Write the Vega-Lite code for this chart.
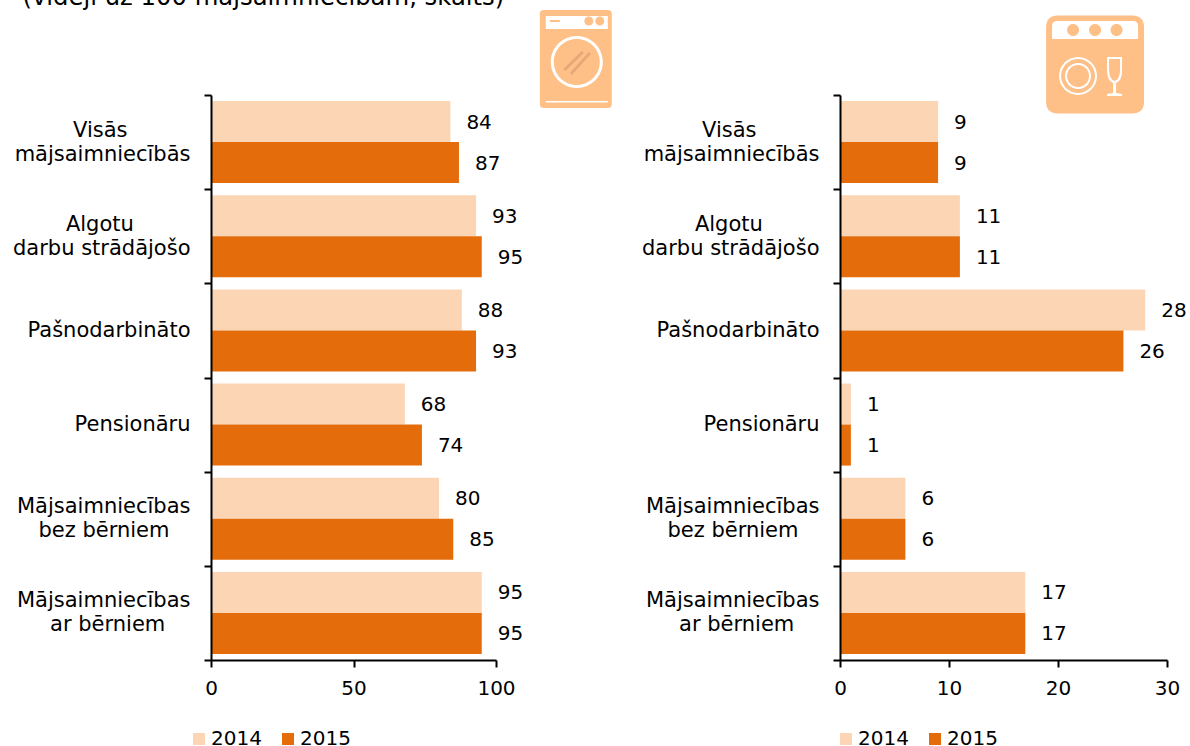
{
"$schema":"https://vega.github.io/schema/vega-lite/v6.json",
"background":"white",
"padding":{"left":12,"top":-15,"right":0,"bottom":0},
"title":{"text":"(vidēji uz 100 mājsaimniecībām, skaits)","anchor":"start","font":"DejaVu Sans","fontSize":24.3,"fontWeight":"normal","color":"#000000","offset":0,"dx":10},
"datasets":{
"left":[
{"grupa":"Visās mājsaimniecībās","gads":"2014","v":84},{"grupa":"Visās mājsaimniecībās","gads":"2015","v":87},
{"grupa":"Algotu darbu strādājošo","gads":"2014","v":93},{"grupa":"Algotu darbu strādājošo","gads":"2015","v":95},
{"grupa":"Pašnodarbināto","gads":"2014","v":88},{"grupa":"Pašnodarbināto","gads":"2015","v":93},
{"grupa":"Pensionāru","gads":"2014","v":68},{"grupa":"Pensionāru","gads":"2015","v":74},
{"grupa":"Mājsaimniecības bez bērniem","gads":"2014","v":80},{"grupa":"Mājsaimniecības bez bērniem","gads":"2015","v":85},
{"grupa":"Mājsaimniecības ar bērniem","gads":"2014","v":95},{"grupa":"Mājsaimniecības ar bērniem","gads":"2015","v":95}],
"right":[
{"grupa":"Visās mājsaimniecībās","gads":"2014","v":9},{"grupa":"Visās mājsaimniecībās","gads":"2015","v":9},
{"grupa":"Algotu darbu strādājošo","gads":"2014","v":11},{"grupa":"Algotu darbu strādājošo","gads":"2015","v":11},
{"grupa":"Pašnodarbināto","gads":"2014","v":28},{"grupa":"Pašnodarbināto","gads":"2015","v":26},
{"grupa":"Pensionāru","gads":"2014","v":1},{"grupa":"Pensionāru","gads":"2015","v":1},
{"grupa":"Mājsaimniecības bez bērniem","gads":"2014","v":6},{"grupa":"Mājsaimniecības bez bērniem","gads":"2015","v":6},
{"grupa":"Mājsaimniecības ar bērniem","gads":"2014","v":17},{"grupa":"Mājsaimniecības ar bērniem","gads":"2015","v":17}],
"ikona":[{"ikona":"ierīce"}]
},
"config":{"view":{"stroke":null},"text":{"font":"DejaVu Sans"},
"axis":{"labelFont":"DejaVu Sans","labelFontSize":20,"labelColor":"#000000","domainColor":"#000000","domainWidth":2,"tickColor":"#000000","tickWidth":2,"tickSize":7,"grid":false,"title":null,"labelFlush":false},
"legend":{"labelFont":"DejaVu Sans","labelFontSize":20,"labelColor":"#000000"}},
"spacing":29,
"hconcat":[
{"width":285,"height":565,
"resolve":{"scale":{"y":"independent"}},
"layer":[
{"data":{"name":"left"},"mark":{"type":"bar"},
"encoding":{
"y":{"field":"grupa","type":"nominal","sort":null,"scale":{"domain":["Visās mājsaimniecībās","Algotu darbu strādājošo","Pašnodarbināto","Pensionāru","Mājsaimniecības bez bērniem","Mājsaimniecības ar bērniem"],"paddingInner":0,"paddingOuter":0},
"axis":{"zindex":2,"domainWidth":2,"domainColor":"#000000","tickBand":"extent","labelPadding":14,"labelAngle":0,"labelLimit":300,"labelAlign":"right","labelBaseline":"middle","labelFontSize":21,"labelLineHeight":12,"labelOffset":-12,
"labelExpr":"{'Visās mājsaimniecībās':['Visās\u2002\u2002\u2002\u2002\u2002\u2002\u200b','\u2002\u200b','mājsaimniecībās'],'Algotu darbu strādājošo':['Algotu\u2002\u2002\u2002\u2002\u2002\u2009\u200b','\u2002\u200b','darbu strādājošo'],'Pašnodarbināto':['\u2002\u200b','Pašnodarbināto'],'Pensionāru':['\u2002\u200b','Pensionāru'],'Mājsaimniecības bez bērniem':['Mājsaimniecības','\u2002\u200b','bez bērniem\u2002\u2002\u200b'],'Mājsaimniecības ar bērniem':['Mājsaimniecības','\u2002\u200b','ar bērniem\u2002\u2002\u2009\u200b']}[datum.label]"}},
"yOffset":{"field":"gads","type":"nominal","scale":{"domain":["2014","2015"],"paddingInner":0,"paddingOuter":0.148}},
"x":{"field":"v","type":"quantitative","scale":{"domain":[0,100],"nice":false},"axis":{"zindex":2,"values":[0,50,100],"labelPadding":11,"format":"d"}},
"color":{"field":"gads","type":"nominal","scale":{"domain":["2014","2015"],"range":["#FCD5B5","#E46C0A"]},
"legend":{"title":null,"orient":"none","direction":"horizontal","legendX":-22,"legendY":634,"symbolType":"square","symbolSize":144,"symbolStrokeWidth":0,"columnPadding":16,"labelOffset":2,"symbolOpacity":1}}
}},
{"data":{"name":"left"},"mark":{"type":"text","align":"left","baseline":"middle","dx":16,"dy":1,"fontSize":20,"color":"#000000"},
"encoding":{
"y":{"field":"grupa","type":"nominal","sort":null,"scale":{"domain":["Visās mājsaimniecībās","Algotu darbu strādājošo","Pašnodarbināto","Pensionāru","Mājsaimniecības bez bērniem","Mājsaimniecības ar bērniem"],"paddingInner":0,"paddingOuter":0},"axis":null},
"yOffset":{"field":"gads","type":"nominal","scale":{"domain":["2014","2015"],"paddingInner":0,"paddingOuter":0.148}},
"x":{"field":"v","type":"quantitative"},
"text":{"field":"v","type":"quantitative"}
}},
{"data":{"name":"ikona"},"mark":{"type":"point","filled":true,"opacity":1,"strokeWidth":0,"color":"#FFC088","size":10000,
"shape":"M-0.64,-0.98 L0.64,-0.98 Q0.72,-0.98 0.72,-0.9 L0.72,0.9 Q0.72,0.98 0.64,0.98 L-0.64,0.98 Q-0.72,0.98 -0.72,0.9 L-0.72,-0.9 Q-0.72,-0.98 -0.64,-0.98 Z"},
"encoding":{"x":{"datum":128},"y":{"datum":-36,"type":"quantitative","scale":{"domain":[0,565],"range":[0,565]},"axis":null}}},
{"data":{"name":"ikona"},"mark":{"type":"point","filled":true,"opacity":1,"strokeWidth":0,"color":"#FFFFFF","size":10000,
"shape":"M-0.6,-0.86 L0.64,-0.86 L0.64,-0.6 L-0.6,-0.6 Z M0.17,-0.76 A0.09,0.09 0 1,0 0.35,-0.76 A0.09,0.09 0 1,0 0.17,-0.76 Z M0.39,-0.76 A0.09,0.09 0 1,0 0.57,-0.76 A0.09,0.09 0 1,0 0.39,-0.76 Z M-0.52,-0.78 L-0.52,-0.74 L-0.32,-0.74 L-0.32,-0.78 Z M-0.5,0.06 A0.52,0.52 0 1,1 0.54,0.06 A0.52,0.52 0 1,1 -0.5,0.06 Z M-0.44,0.06 A0.46,0.46 0 1,0 0.48,0.06 A0.46,0.46 0 1,0 -0.44,0.06 Z M-0.6,0.84 L0.64,0.84 L0.64,0.87 L-0.6,0.87 Z"},
"encoding":{"x":{"datum":128},"y":{"datum":-36,"type":"quantitative","scale":{"domain":[0,565],"range":[0,565]},"axis":null}}},
{"data":{"name":"ikona"},"mark":{"type":"point","filled":true,"opacity":1,"strokeWidth":0,"color":"#E5A878","size":10000,
"shape":"M-0.25,0.2 L0.12,-0.16 L0.16,-0.12 L-0.21,0.24 Z M-0.12,0.28 L0.26,-0.14 L0.3,-0.1 L-0.08,0.32 Z"},
"encoding":{"x":{"datum":128},"y":{"datum":-36,"type":"quantitative","scale":{"domain":[0,565],"range":[0,565]},"axis":null}}}
]},
{"width":327,"height":565,
"resolve":{"scale":{"y":"independent"}},
"layer":[
{"data":{"name":"right"},"mark":{"type":"bar"},
"encoding":{
"y":{"field":"grupa","type":"nominal","sort":null,"scale":{"domain":["Visās mājsaimniecībās","Algotu darbu strādājošo","Pašnodarbināto","Pensionāru","Mājsaimniecības bez bērniem","Mājsaimniecības ar bērniem"],"paddingInner":0,"paddingOuter":0},
"axis":{"zindex":2,"domainWidth":2,"domainColor":"#000000","tickBand":"extent","labelPadding":14,"labelAngle":0,"labelLimit":300,"labelAlign":"right","labelBaseline":"middle","labelFontSize":21,"labelLineHeight":12,"labelOffset":-12,
"labelExpr":"{'Visās mājsaimniecībās':['Visās\u2002\u2002\u2002\u2002\u2002\u2002\u200b','\u2002\u200b','mājsaimniecībās'],'Algotu darbu strādājošo':['Algotu\u2002\u2002\u2002\u2002\u2002\u2009\u200b','\u2002\u200b','darbu strādājošo'],'Pašnodarbināto':['\u2002\u200b','Pašnodarbināto'],'Pensionāru':['\u2002\u200b','Pensionāru'],'Mājsaimniecības bez bērniem':['Mājsaimniecības','\u2002\u200b','bez bērniem\u2002\u2002\u200b'],'Mājsaimniecības ar bērniem':['Mājsaimniecības','\u2002\u200b','ar bērniem\u2002\u2002\u2009\u200b']}[datum.label]"}},
"yOffset":{"field":"gads","type":"nominal","scale":{"domain":["2014","2015"],"paddingInner":0,"paddingOuter":0.148}},
"x":{"field":"v","type":"quantitative","scale":{"domain":[0,30],"nice":false},"axis":{"zindex":2,"values":[0,10,20,30],"labelPadding":11,"format":"d"}},
"color":{"field":"gads","type":"nominal","scale":{"domain":["2014","2015"],"range":["#FCD5B5","#E46C0A"]},
"legend":{"title":null,"orient":"none","direction":"horizontal","legendX":-4,"legendY":634,"symbolType":"square","symbolSize":144,"symbolStrokeWidth":0,"columnPadding":16,"labelOffset":2,"symbolOpacity":1}}
}},
{"data":{"name":"right"},"mark":{"type":"text","align":"left","baseline":"middle","dx":16,"dy":1,"fontSize":20,"color":"#000000"},
"encoding":{
"y":{"field":"grupa","type":"nominal","sort":null,"scale":{"domain":["Visās mājsaimniecībās","Algotu darbu strādājošo","Pašnodarbināto","Pensionāru","Mājsaimniecības bez bērniem","Mājsaimniecības ar bērniem"],"paddingInner":0,"paddingOuter":0},"axis":null},
"yOffset":{"field":"gads","type":"nominal","scale":{"domain":["2014","2015"],"paddingInner":0,"paddingOuter":0.148}},
"x":{"field":"v","type":"quantitative"},
"text":{"field":"v","type":"quantitative"}
}},
{"data":{"name":"ikona"},"mark":{"type":"point","filled":true,"opacity":1,"strokeWidth":0,"color":"#FFC088","size":10000,
"shape":"M-0.74,-0.98 L0.74,-0.98 Q0.98,-0.98 0.98,-0.74 L0.98,0.74 Q0.98,0.98 0.74,0.98 L-0.74,0.98 Q-0.98,0.98 -0.98,0.74 L-0.98,-0.74 Q-0.98,-0.98 -0.74,-0.98 Z"},
"encoding":{"x":{"datum":23.4},"y":{"datum":-30.5,"type":"quantitative","scale":{"domain":[0,565],"range":[0,565]},"axis":null}}},
{"data":{"name":"ikona"},"mark":{"type":"point","filled":true,"opacity":1,"strokeWidth":0,"color":"#FFFFFF","size":10000,
"shape":"M-0.76,-0.87 L0.76,-0.87 Q0.86,-0.87 0.86,-0.77 L0.86,-0.51 L-0.86,-0.51 L-0.86,-0.77 Q-0.86,-0.87 -0.76,-0.87 Z M-0.56,-0.69 A0.12,0.12 0 1,0 -0.32,-0.69 A0.12,0.12 0 1,0 -0.56,-0.69 Z M-0.12,-0.69 A0.12,0.12 0 1,0 0.12,-0.69 A0.12,0.12 0 1,0 -0.12,-0.69 Z M0.31,-0.69 A0.12,0.12 0 1,0 0.55,-0.69 A0.12,0.12 0 1,0 0.31,-0.69 Z M-0.72,0.23 A0.38,0.38 0 1,1 0.04,0.23 A0.38,0.38 0 1,1 -0.72,0.23 Z M-0.68,0.23 A0.34,0.34 0 1,0 0,0.23 A0.34,0.34 0 1,0 -0.68,0.23 Z M-0.6,0.23 A0.26,0.26 0 1,1 -0.08,0.23 A0.26,0.26 0 1,1 -0.6,0.23 Z M-0.56,0.23 A0.22,0.22 0 1,0 -0.12,0.23 A0.22,0.22 0 1,0 -0.56,0.23 Z M0.24,-0.15 L0.54,-0.15 L0.54,0.1 Q0.54,0.33 0.42,0.37 L0.42,0.57 L0.54,0.59 L0.54,0.63 L0.24,0.63 L0.24,0.59 L0.36,0.57 L0.36,0.37 Q0.24,0.33 0.24,0.1 Z M0.28,-0.11 L0.28,0.1 Q0.28,0.3 0.39,0.33 Q0.5,0.3 0.5,0.1 L0.5,-0.11 Z"},
"encoding":{"x":{"datum":23.4},"y":{"datum":-30.5,"type":"quantitative","scale":{"domain":[0,565],"range":[0,565]},"axis":null}}}
]}
],
"resolve":{"scale":{"color":"independent"}}
}
